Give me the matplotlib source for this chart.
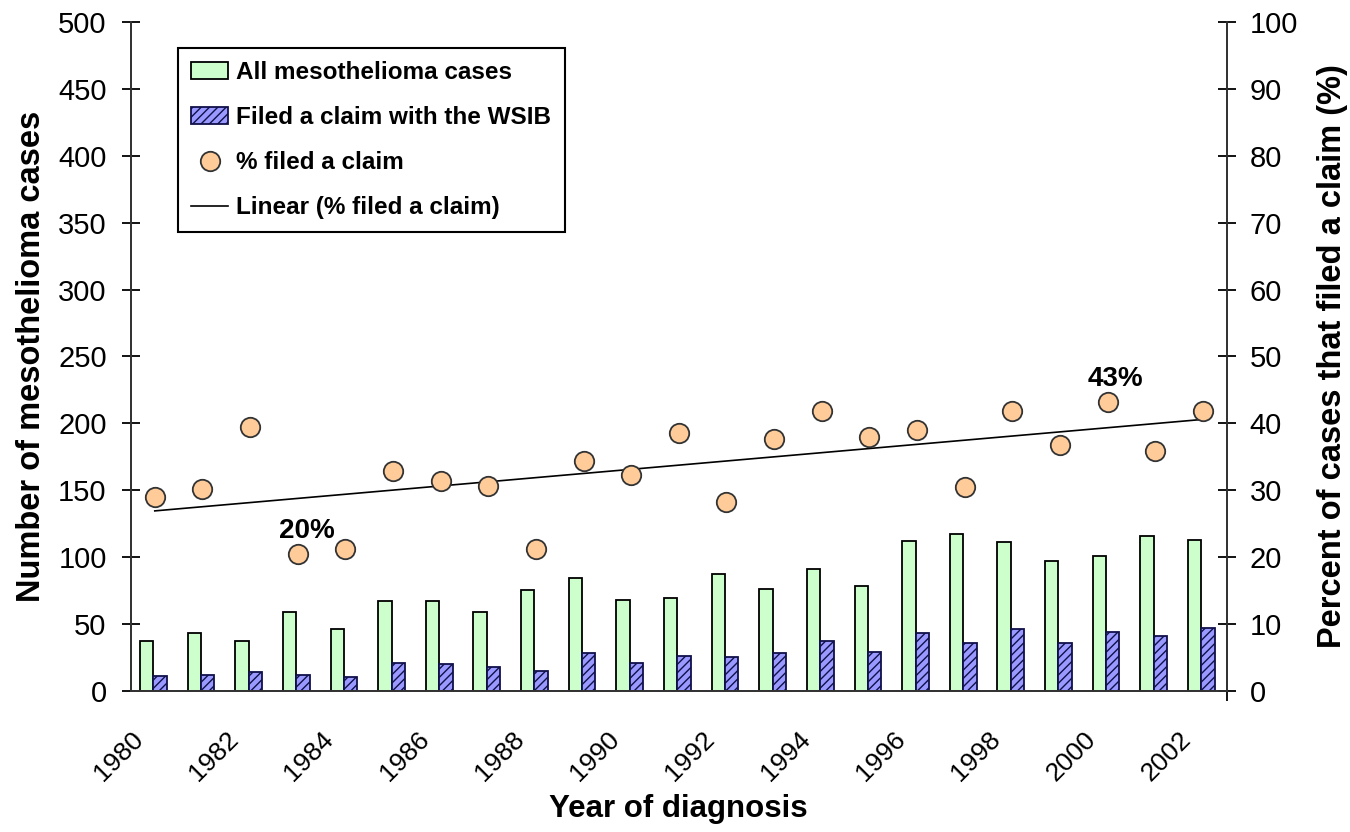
import matplotlib.pyplot as plt
import numpy as np

plt.rcParams['font.family'] = ['Liberation Sans', 'DejaVu Sans']
plt.rcParams['hatch.linewidth'] = 1.0

years = list(range(1980, 2003))
all_cases = [37, 43, 37, 59, 46, 67, 67, 59, 75, 84, 68, 69, 87, 76, 91, 78, 112, 117, 111, 97, 101, 116, 113]
claims = [11, 12, 14, 12, 10, 21, 20, 18, 15, 28, 21, 26, 25, 28, 37, 29, 43, 36, 46, 36, 44, 41, 47]
pct_claim = [28.9, 30.1, 39.4, 20.4, 21.2, 32.8, 31.3, 30.6, 21.2, 34.4, 32.3, 38.6, 28.2, 37.6,
             41.8, 37.9, 39.0, 30.5, 41.9, 36.8, 43.2, 35.9, 41.9]
year_labels = [str(y) if y % 2 == 0 else "" for y in years]

x = np.arange(len(years))
w = 0.28

fig = plt.figure(figsize=(13.5, 8.32), dpi=100)
ax = fig.add_axes([0.0970, 0.1698, 0.8116, 0.8037])
ax2 = ax.twinx()

b1 = ax.bar(x - w / 2 - 0.03, all_cases, w, color="#CCFFCC", edgecolor="black", linewidth=1.3,
            label="All mesothelioma cases")
b2 = ax.bar(x + w / 2 - 0.03, claims, w, color="#9999FF", edgecolor="#10104a", linewidth=1.3,
            hatch="////", label="Filed a claim with the WSIB")

# linear trend of the percentage
k, c = np.polyfit(x, pct_claim, 1)
ln, = ax2.plot(x, k * x + c, color="black", linewidth=1.2, label="Linear (% filed a claim)")
pts, = ax2.plot(x, pct_claim, linestyle="none", marker="o", markersize=14,
                markerfacecolor="#FFCC99", markeredgecolor="#333333", markeredgewidth=1.3,
                label="% filed a claim")

narrow = ["Liberation Sans Narrow", "Liberation Sans", "DejaVu Sans"]
ax2.text(x[3] + 0.2, pct_claim[3] + 1.5, "20%", ha="center", va="bottom", fontsize=20,
         fontweight="bold", family=narrow)
ax2.text(x[20] + 0.17, pct_claim[20] + 1.5, "43%", ha="center", va="bottom", fontsize=20,
         fontweight="bold", family=narrow)

ax.set_xlim(-0.5, len(years) - 0.5)
ax.set_ylim(0, 500)
ax2.set_ylim(0, 100)
ax.set_yticks(range(0, 501, 50))
ax2.set_yticks(range(0, 101, 10))

ax.set_xticks(x - 0.5)
ax.set_xticklabels(year_labels, rotation=45, ha="right", rotation_mode="anchor", fontsize=19)
ax.set_xticks(np.arange(len(years) + 1) - 0.5, minor=True)
ax.tick_params(axis="x", which="major", length=0, pad=26)
ax.tick_params(axis="x", which="minor", direction="inout", length=14, width=1.3)
ax.tick_params(axis="y", direction="inout", length=13, width=1.3, labelsize=21, pad=11)
ax2.tick_params(axis="y", direction="inout", length=13, width=1.3, labelsize=21, pad=10)

for a in (ax, ax2):
    a.spines["top"].set_visible(False)
    for s in ("left", "right", "bottom"):
        a.spines[s].set_linewidth(1.3)
        a.spines[s].set_color("#333333")

ax.set_ylabel("Number of mesothelioma cases", fontsize=23.5, fontweight="bold", labelpad=8)
ax2.set_ylabel("Percent of cases that filed a claim (%)", fontsize=23.5, fontweight="bold", labelpad=14)
ax.set_xlabel("Year of diagnosis", fontsize=22.5, fontweight="bold", labelpad=6)

leg = ax2.legend([b1, b2, pts, ln],
                 ["All mesothelioma cases", "Filed a claim with the WSIB", "% filed a claim",
                  "Linear (% filed a claim)"],
                 loc="upper left", bbox_to_anchor=(0.043, 0.961), borderaxespad=0,
                 fancybox=False, framealpha=1, edgecolor="black",
                 prop={"weight": "bold", "size": 17.5}, handlelength=1.5,
                 handletextpad=0.35, labelspacing=0.9, borderpad=0.55)
leg.get_frame().set_linewidth(1.5)

fig.savefig("out.png", dpi=100)
